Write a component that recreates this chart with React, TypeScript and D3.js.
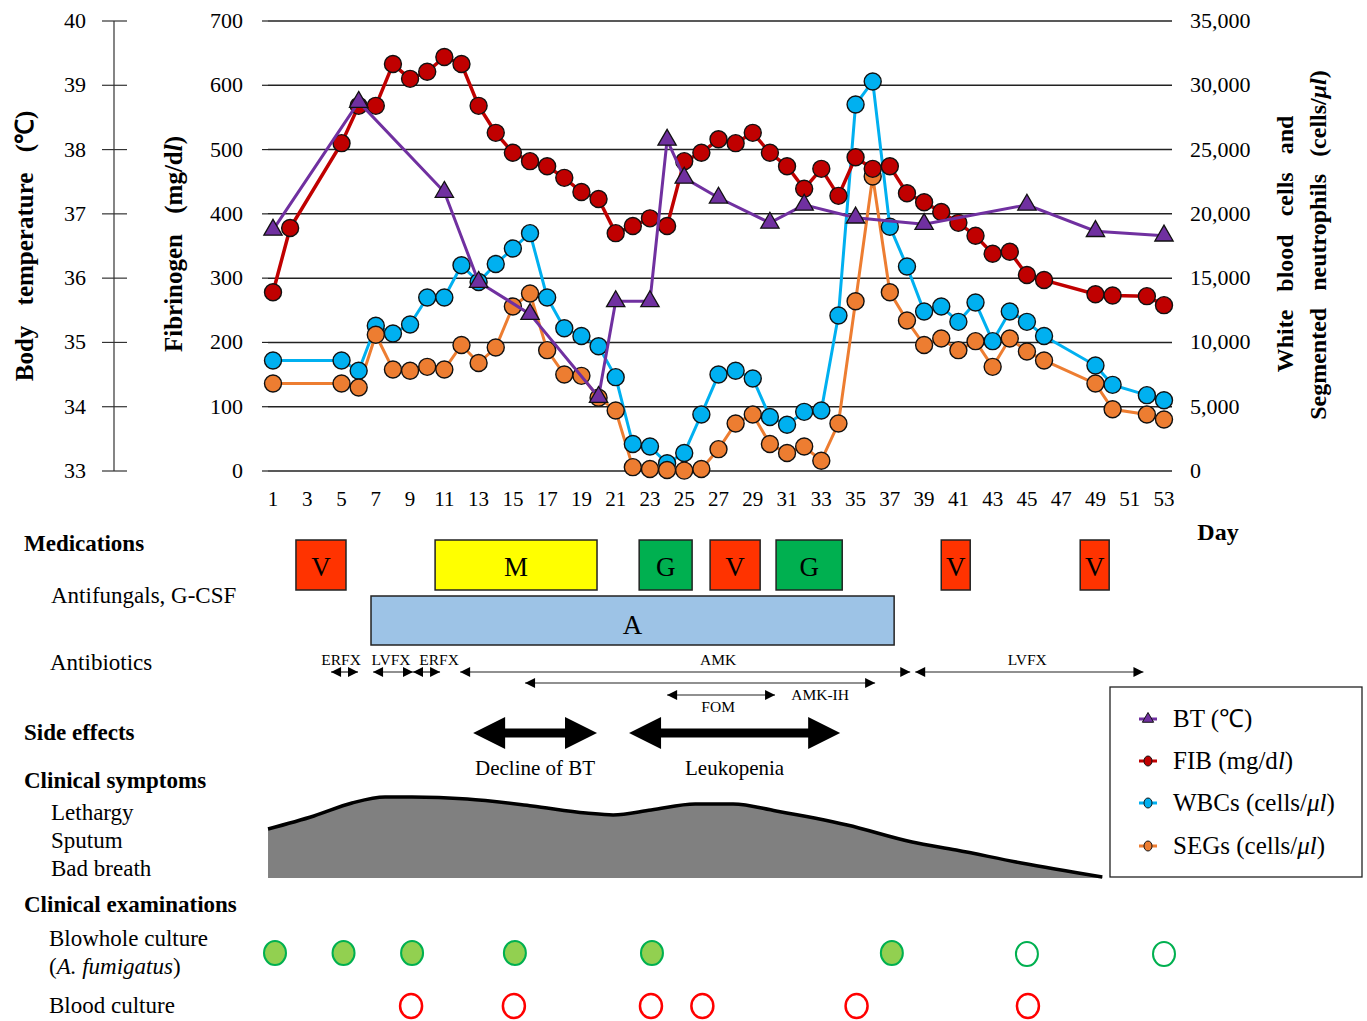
import React, { useEffect } from 'react';
import * as d3 from 'd3';

// body temperature (triangles)
const btDays = [1, 6, 11, 13, 16, 20, 21, 23, 24, 25, 27, 30, 32, 35, 39, 45, 49, 53];
const btValues = [36.75, 38.74, 37.34, 35.94, 35.44, 34.15, 35.64, 35.64, 38.15, 37.56, 37.25, 36.86, 37.14, 36.94, 36.84, 37.14, 36.73, 36.66];

// fibrinogen mg/dl
const fibDays = [1, 2, 5, 6, 7, 8, 9, 10, 11, 12, 13, 14, 15, 16, 17, 18, 19, 20, 21, 22, 23, 24, 25, 26, 27, 28, 29, 30, 31, 32, 33, 34, 35, 36, 37, 38, 39, 40, 41, 42, 43, 44, 45, 46, 49, 50, 52, 53];
const fibValues = [278, 378, 510, 568, 568, 633, 610, 621, 644, 633, 568, 526, 495, 482, 474, 456, 434, 423, 370, 381, 393, 381, 482, 495, 516, 510, 526, 495, 474, 439, 470, 428, 488, 470, 474, 432, 418, 403, 386, 366, 338, 341, 305, 297, 275, 273, 272, 258];

// WBC and SEG cells/ul
const cellDays = [1, 5, 6, 7, 8, 9, 10, 11, 12, 13, 14, 15, 16, 17, 18, 19, 20, 21, 22, 23, 24, 25, 26, 27, 28, 29, 30, 31, 32, 33, 34, 35, 36, 37, 38, 39, 40, 41, 42, 43, 44, 45, 46, 49, 50, 52, 53];
const wbcValues = [8600, 8600, 7800, 11300, 10700, 11400, 13500, 13500, 16000, 14700, 16100, 17300, 18500, 13500, 11100, 10500, 9700, 7300, 2100, 1900, 600, 1400, 4400, 7500, 7800, 7200, 4200, 3600, 4600, 4700, 12100, 28500, 30300, 19000, 15900, 12400, 12800, 11600, 13100, 10100, 12400, 11600, 10500, 8200, 6700, 5900, 5500];
const segValues = [6800, 6800, 6500, 10600, 7900, 7800, 8100, 7900, 9800, 8400, 9600, 12800, 13800, 9400, 7500, 7400, 5700, 4700, 300, 150, 80, 30, 150, 1700, 3700, 4400, 2100, 1400, 1900, 800, 3700, 13200, 22900, 13900, 11700, 9800, 10300, 9400, 10100, 8100, 10300, 9300, 8600, 6800, 4800, 4400, 4000];

const dayTicks = [1, 3, 5, 7, 9, 11, 13, 15, 17, 19, 21, 23, 25, 27, 29, 31, 33, 35, 37, 39, 41, 43, 45, 47, 49, 51, 53];
const btTicks = [33, 34, 35, 36, 37, 38, 39, 40];
const fibTicks = [0, 100, 200, 300, 400, 500, 600, 700];
const cellTicks = [0, 5000, 10000, 15000, 20000, 25000, 30000, 35000];

// medications (start day, end day)
const medLabels = ['V', 'M', 'G', 'V', 'G', 'V', 'V'];
const medStart = [2.34, 10.46, 22.37, 26.51, 30.36, 40.0, 48.11];
const medEnd = [5.26, 19.91, 25.46, 29.43, 34.22, 41.69, 49.8];
const medColors = ['#FF3300', '#FFFF00', '#00B050', '#FF3300', '#00B050', '#FF3300', '#FF3300'];
const abxBox = { label: 'A', start: 6.72, end: 37.25 };

// antibiotics arrows
const abxNames = ['ERFX', 'LVFX', 'ERFX', 'AMK', 'LVFX', 'AMK-IH', 'FOM'];
const abxStart = [4.39, 6.84, 9.17, 11.92, 38.48, 15.71, 24.0];
const abxEnd = [5.96, 9.17, 10.75, 38.19, 51.8, 36.14, 30.3];
const abxRow = [0, 0, 0, 0, 0, 1, 2];
const abxLabelDay = [4.97, 7.89, 10.69, 26.98, 45.02, 32.93, 26.98];

// side effects
const sideNames = ['Decline of BT', 'Leukopenia'];
const sideStart = [12.68, 21.78];
const sideEnd = [19.91, 34.1];

// clinical symptoms severity
const sympDays = [0.71, 3.39, 5.61, 7.54, 9.11, 12.33, 16.12, 19.27, 20.85, 23.07, 25.64, 27.85, 30.36, 34.51, 38.3, 40.87, 44.67, 49.4];
const sympLevel = [49, 62, 75, 81, 81, 79, 72, 65, 63, 68, 74, 74, 67, 53, 36, 28, 15, 1];

// cultures
const blowPosDays = [1, 5, 9, 15, 23, 37];
const blowNegDays = [45, 53];
const bloodDays = [9, 15, 23, 26, 35, 45];

const FONT = '"Liberation Serif", "Times New Roman", serif';
const C_BT = '#7030A0';
const C_FIB = '#C00000';
const C_WBC = '#00B0F0';
const C_SEG = '#ED7D31';

export default function App() {
  useEffect(() => {
    document.body.style.margin = '0';
  }, []);

  const x = d3.scaleLinear().domain([1, 53]).range([273, 1164]);
  const yFib = d3.scaleLinear().domain([0, 700]).range([471, 21]);
  const yBt = d3.scaleLinear().domain([33, 40]).range([471, 21]);
  const yCell = d3.scaleLinear().domain([0, 35000]).range([471, 21]);
  const ySymp = d3.scaleLinear().domain([0, 100]).range([878, 778]);

  const pts = (days: number[], vals: number[], y: any) => days.map((d, i) => [x(d), y(vals[i])] as [number, number]);
  const line = d3.line();

  const fibPts = pts(fibDays, fibValues, yFib);
  const wbcPts = pts(cellDays, wbcValues, yCell);
  const segPts = pts(cellDays, segValues, yCell);
  const btPts = pts(btDays, btValues, yBt);

  const tri = d3.symbol(d3.symbolTriangle).size(145)();
  const triSmall = d3.symbol(d3.symbolTriangle).size(55)();

  const sympArea = d3.area<number>()
    .x((d, i) => x(sympDays[i]))
    .y0(878)
    .y1((d) => ySymp(d))
    .curve(d3.curveMonotoneX);
  const sympLine = d3.line<number>()
    .x((d, i) => x(sympDays[i]))
    .y((d) => ySymp(d))
    .curve(d3.curveMonotoneX);

  const abxY = [672, 683, 695];
  const sideY = 733;

  const bigArrow = (x1: number, x2: number, y: number) => {
    const h = 32, hw = 16, sw = 4.5;
    return [
      [x1, y], [x1 + h, y - hw], [x1 + h, y - sw], [x2 - h, y - sw], [x2 - h, y - hw],
      [x2, y], [x2 - h, y + hw], [x2 - h, y + sw], [x1 + h, y + sw], [x1 + h, y + hw]
    ].map((p) => p.join(',')).join(' ');
  };

  const circles = (p: [number, number][], color: string) =>
    p.map((q, i) => <circle key={i} cx={q[0]} cy={q[1]} r={8.5} fill={color} stroke="#111" strokeWidth={1.4} />);

  return (
    <svg width={1367} height={1021} style={{ display: 'block', fontFamily: FONT }}>
      <defs>
        <marker id="ah" viewBox="0 0 10 10" refX="10" refY="5" markerWidth="11" markerHeight="10" markerUnits="userSpaceOnUse" orient="auto-start-reverse">
          <path d="M0,0 L10,5 L0,10 z" fill="#000" />
        </marker>
      </defs>
      <rect width={1367} height={1021} fill="#fff" />

      {/* grid lines */}
      {fibTicks.map((t) => (
        <g key={t}>
          <line x1={268} x2={1172} y1={yFib(t)} y2={yFib(t)} stroke="#222" strokeWidth={1.5} />
          <line x1={262} x2={268} y1={yFib(t)} y2={yFib(t)} stroke="#222" strokeWidth={1.2} />
          <text x={243} y={yFib(t) + 7} textAnchor="end" fontSize={22}>{t}</text>
        </g>
      ))}

      {/* body temperature axis */}
      <line x1={114} x2={114} y1={21} y2={471} stroke="#333" strokeWidth={1.2} />
      {btTicks.map((t) => (
        <g key={t}>
          <line x1={102} x2={127} y1={yBt(t)} y2={yBt(t)} stroke="#333" strokeWidth={1.2} />
          <text x={86} y={yBt(t) + 7} textAnchor="end" fontSize={22}>{t}</text>
        </g>
      ))}

      {/* right axis */}
      {cellTicks.map((t) => (
        <text key={t} x={1190} y={yCell(t) + 7} fontSize={22}>{d3.format(',')(t)}</text>
      ))}

      {/* day labels */}
      {dayTicks.map((d) => (
        <text key={d} x={x(d)} y={506} textAnchor="middle" fontSize={21}>{d}</text>
      ))}
      <text x={1218} y={540} textAnchor="middle" fontSize={24} fontWeight="bold">Day</text>

      {/* axis titles */}
      <text transform="translate(33,246) rotate(-90)" textAnchor="middle" fontSize={25} fontWeight="bold" wordSpacing={14}>Body temperature (℃)</text>
      <text transform="translate(182,244) rotate(-90)" textAnchor="middle" fontSize={25} fontWeight="bold" wordSpacing={14}>
        Fibrinogen (mg/d<tspan fontStyle="italic">l</tspan>)
      </text>
      <text transform="translate(1293,244) rotate(-90)" textAnchor="middle" fontSize={24} fontWeight="bold" wordSpacing={12}>White blood cells and</text>
      <text transform="translate(1326,245) rotate(-90)" textAnchor="middle" fontSize={24} fontWeight="bold" wordSpacing={11}>
        Segmented neutrophils (cells/<tspan fontStyle="italic">μl</tspan>)
      </text>

      {/* series lines */}
      <path d={line(wbcPts) || ''} fill="none" stroke={C_WBC} strokeWidth={3} />
      <path d={line(segPts) || ''} fill="none" stroke={C_SEG} strokeWidth={3} />
      <path d={line(fibPts) || ''} fill="none" stroke={C_FIB} strokeWidth={3.5} />
      {circles(wbcPts, C_WBC)}
      {circles(segPts, C_SEG)}
      {circles(fibPts, C_FIB)}
      <path d={line(btPts) || ''} fill="none" stroke={C_BT} strokeWidth={3} />
      {btPts.map((p, i) => (
        <path key={i} d={tri || ''} transform={`translate(${p[0]},${p[1]})`} fill={C_BT} stroke="#111" strokeWidth={1.3} />
      ))}

      {/* left side labels */}
      <g fontSize={23}>
        <text x={24} y={551} fontWeight="bold">Medications</text>
        <text x={51} y={603}>Antifungals, G-CSF</text>
        <text x={50} y={670}>Antibiotics</text>
        <text x={24} y={740} fontWeight="bold">Side effects</text>
        <text x={24} y={788} fontWeight="bold">Clinical symptoms</text>
        <text x={51} y={820}>Lethargy</text>
        <text x={51} y={848}>Sputum</text>
        <text x={51} y={876}>Bad breath</text>
        <text x={24} y={912} fontWeight="bold">Clinical examinations</text>
        <text x={49} y={946}>Blowhole culture</text>
        <text x={49} y={974}>(<tspan fontStyle="italic">A. fumigatus</tspan>)</text>
        <text x={49} y={1013}>Blood culture</text>
      </g>

      {/* medications */}
      {medLabels.map((m, i) => (
        <g key={i}>
          <rect x={x(medStart[i])} y={540} width={x(medEnd[i]) - x(medStart[i])} height={50} fill={medColors[i]} stroke="#222" strokeWidth={1.5} />
          <text x={(x(medStart[i]) + x(medEnd[i])) / 2} y={576} textAnchor="middle" fontSize={27}>{m}</text>
        </g>
      ))}
      <rect x={x(abxBox.start)} y={596} width={x(abxBox.end) - x(abxBox.start)} height={49} fill="#9DC3E6" stroke="#222" strokeWidth={1.5} />
      <text x={(x(abxBox.start) + x(abxBox.end)) / 2} y={634} textAnchor="middle" fontSize={27}>{abxBox.label}</text>

      {/* antibiotics */}
      {abxNames.map((n, i) => {
        const x1 = x(abxStart[i]);
        const x2 = x(abxEnd[i]);
        const y = abxY[abxRow[i]];
        const ly = abxRow[i] === 0 ? y - 7 : y + 17;
        return (
          <g key={i}>
            <line x1={x1} x2={x2} y1={y} y2={y} stroke="#222" strokeWidth={1.2} markerStart="url(#ah)" markerEnd="url(#ah)" />
            <text x={x(abxLabelDay[i])} y={ly} textAnchor="middle" fontSize={15.5}>{n}</text>
          </g>
        );
      })}

      {/* side effects */}
      {sideNames.map((n, i) => (
        <g key={i}>
          <polygon points={bigArrow(x(sideStart[i]), x(sideEnd[i]), sideY)} fill="#000" />
          <text x={(x(sideStart[i]) + x(sideEnd[i])) / 2} y={775} textAnchor="middle" fontSize={21}>{n}</text>
        </g>
      ))}

      {/* clinical symptoms */}
      <path d={sympArea(sympLevel) || ''} fill="#808080" />
      <path d={sympLine(sympLevel) || ''} fill="none" stroke="#000" strokeWidth={3.5} />

      {/* cultures */}
      {blowPosDays.map((d, i) => (
        <ellipse key={'bp' + i} cx={x(d) + 2} cy={953} rx={11} ry={12} fill="#92D050" stroke="#00B050" strokeWidth={2} />
      ))}
      {blowNegDays.map((d, i) => (
        <ellipse key={'bn' + i} cx={x(d)} cy={954} rx={11} ry={12} fill="#fff" stroke="#00B050" strokeWidth={2} />
      ))}
      {bloodDays.map((d, i) => (
        <ellipse key={'bl' + i} cx={x(d) + 1} cy={1006} rx={11} ry={12} fill="#fff" stroke="#FF0000" strokeWidth={2.5} />
      ))}

      {/* legend */}
      <rect x={1110} y={687} width={252} height={190} fill="#fff" stroke="#222" strokeWidth={1.3} />
      {[
        { c: C_BT, tri: true, y: 719, label: <>BT (℃)</> },
        { c: C_FIB, tri: false, y: 761, label: <>FIB (mg/d<tspan fontStyle="italic">l</tspan>)</> },
        { c: C_WBC, tri: false, y: 803, label: <>WBCs (cells/<tspan fontStyle="italic">μl</tspan>)</> },
        { c: C_SEG, tri: false, y: 846, label: <>SEGs (cells/<tspan fontStyle="italic">μl</tspan>)</> }
      ].map((it, i) => (
        <g key={i}>
          <line x1={1139} x2={1157} y1={it.y} y2={it.y} stroke={it.c} strokeWidth={3} />
          {it.tri
            ? <path d={triSmall || ''} transform={`translate(1148,${it.y})`} fill={it.c} stroke="#111" strokeWidth={1} />
            : <ellipse cx={1148} cy={it.y} rx={4} ry={5} fill={it.c} stroke="#111" strokeWidth={1} />}
          <text x={1173} y={it.y + 8} fontSize={25}>{it.label}</text>
        </g>
      ))}
    </svg>
  );
}
